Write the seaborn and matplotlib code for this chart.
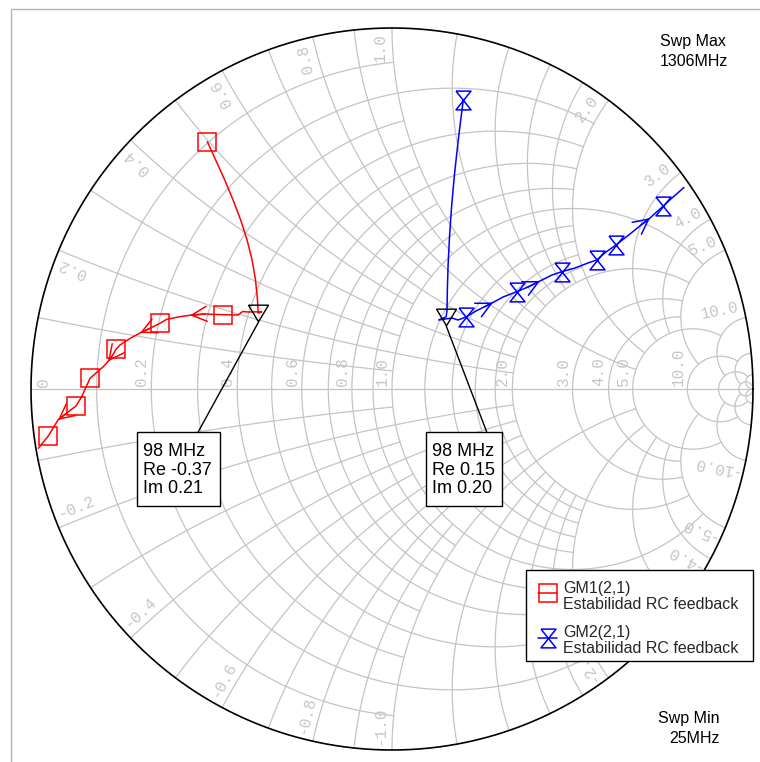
import numpy as np
import seaborn as sns
import matplotlib
matplotlib.use("Agg")
import matplotlib.pyplot as plt
from matplotlib.patches import Rectangle
from matplotlib.path import Path

sns.set_theme(style="white")
plt.rcParams['font.family'] = ['Liberation Sans', 'DejaVu Sans']

# smith grid: circle / arc values and the value where each one stops
grid_vals = [0.1, 0.2, 0.3, 0.4, 0.5, 0.6, 0.7, 0.8, 0.9, 1.0,
             1.2, 1.4, 1.6, 1.8, 2.0, 3.0, 4.0, 5.0, 10.0, 20.0, 50.0]
grid_stop = [1, 2, 1, 2, 1, 2, 1, 2, 1, 5,
             2, 2, 2, 2, 5, 5, 5, 10, 20, 50, np.inf]
lab_vals = [0.2, 0.4, 0.6, 0.8, 1.0, 2.0, 3.0, 4.0, 5.0, 10.0]

# GM1(2,1), reflection plane, 25 MHz -> 1306 MHz
gm1_re = [-0.5116, -0.4884, -0.4634, -0.4402, -0.4191, -0.4014, -0.3875, -0.3781,
          -0.3726, -0.3712, -0.37, -0.3609, -0.3989, -0.4136, -0.4266,
          -0.4690, -0.5180, -0.5596, -0.5873, -0.6241, -0.6427, -0.6704, -0.6981,
          -0.7258, -0.7535, -0.7645, -0.7765, -0.7867, -0.7997, -0.8366, -0.8596,
          -0.8753, -0.9011, -0.9252, -0.9521, -0.9798]
gm1_im = [0.6850, 0.6343, 0.5789, 0.5235, 0.4681, 0.4127, 0.3573, 0.3019,
          0.2465, 0.2188, 0.21, 0.2141, 0.2133, 0.2147, 0.2050,
          0.2058, 0.2078, 0.2042, 0.2003, 0.1931, 0.1820, 0.1681, 0.1551,
          0.1399, 0.1219, 0.1100, 0.0895, 0.0762, 0.0618, 0.0296, -0.0213,
          -0.0471, -0.0665, -0.0859, -0.1302, -0.1643]
gm1_sym = [0, 15, 20, 25, 29, 31, 34]
gm1_arrows = [17, 22, 27, 33]

# GM2(2,1)
gm2_re = [0.1975, 0.1903, 0.1820, 0.1729, 0.1654, 0.1596, 0.1554, 0.1533,
          0.1525, 0.15, 0.1294, 0.1662, 0.1828, 0.2050, 0.2327, 0.2548,
          0.2798, 0.3075, 0.3454, 0.3767, 0.4100, 0.4432, 0.4701, 0.5069,
          0.5429, 0.5670, 0.5928, 0.6205, 0.6593, 0.6898, 0.7147, 0.7515,
          0.7756, 0.8089]
gm2_im = [0.8006, 0.7452, 0.6759, 0.5928, 0.5097, 0.4266, 0.3435, 0.2742,
          0.2188, 0.20, 0.1911, 0.1967, 0.1911, 0.1994, 0.2161, 0.2271,
          0.2396, 0.2548, 0.2695, 0.2825, 0.2992, 0.3158, 0.3249, 0.3352,
          0.3490, 0.3573, 0.3795, 0.3989, 0.4294, 0.4543, 0.4737, 0.5069,
          0.5291, 0.5582]
gm2_sym = [0, 13, 18, 22, 25, 27, 31]
gm2_arrows = [16, 20, 30]

mk_freq = "98 MHz"
mk1 = (-0.37, 0.21)
mk2 = (0.15, 0.20)
swp_max = "1306MHz"
swp_min = "25MHz"
series_name = "Estabilidad RC feedback"

S, CX, CY = 361.0, 392.0, 389.0


def P(px, py):
    # pixel position -> chart coords (used for layout only)
    return (px - CX) / S, (CY - py) / S


def gam(z):
    g = (z - 1) / (z + 1)
    return g.real, g.imag


fig = plt.figure(figsize=(7.6, 7.62), dpi=100)
ax = fig.add_axes([0, 0, 1, 1])
ax.set_xlim(P(0, 0)[0], P(760, 0)[0])
ax.set_ylim(P(0, 762)[1], P(0, 0)[1])
ax.set_aspect('equal')
ax.axis('off')

# frame
x0, y0 = P(11, 9)
ax.add_patch(Rectangle((x0, -2), 4, y0 + 2, fill=False, ec='#b4b4b4', lw=1.0, zorder=0))

gc = '#c4c4c4'
glw = 0.9
for v, stop in zip(grid_vals, grid_stop):
    tmax = np.pi / 2 if np.isinf(stop) else np.arctan(stop)
    t = np.clip(np.linspace(-tmax, tmax, 801), -1.57075, 1.57075)
    gx, gy = gam(v + 1j * np.tan(t))
    ax.plot(gx, gy, color=gc, lw=glw, zorder=1)
    t = np.clip(np.linspace(0, tmax, 601), 0, 1.57075)
    for s in (1, -1):
        gx, gy = gam(np.tan(t) + 1j * s * v)
        ax.plot(gx, gy, color=gc, lw=glw, zorder=1)
ax.plot([-1, 1], [0, 0], color=gc, lw=glw, zorder=1)

th = np.linspace(0, 2 * np.pi, 721)
ax.plot(np.cos(th), np.sin(th), color='black', lw=1.2, zorder=2)

# grid labels
lab_kw = dict(color='#c6c6c6', fontsize=11.5, family='Liberation Mono', zorder=2)
for v in lab_vals:
    g = (v - 1) / (v + 1)
    ax.text(g - 2 / S, 3 / S, f"{v:.1f}", rotation=90, ha='right', va='bottom', **lab_kw)
ax.text(*P(43.5, 382.5), "0", rotation=90, ha='center', va='center', **lab_kw)

d = 12 / S
rho = 1 - 5 / S
for v in lab_vals:
    for s in (1, -1):
        x = s * v
        ang = np.arctan2(2 * x / (x * x + 1), (x * x - 1) / (x * x + 1))
        a = ang + s * d
        rot = np.degrees(ang) if s > 0 else np.degrees(ang) + 180
        ax.text(rho * np.cos(a), rho * np.sin(a), f"{x:.1f}", rotation=rot,
                rotation_mode='anchor', ha='right' if s > 0 else 'left',
                va='center', **lab_kw)

# traces
bowtie = Path([(-0.8, 1), (0.8, 1), (-0.8, -1), (0.8, -1), (-0.8, 1)])
tri = Path([(-1.2, 1), (1.2, 1), (0, -1), (-1.2, 1)])

traces = [(gm1_re, gm1_im, gm1_sym, gm1_arrows, 'red', 's', 12.5),
          (gm2_re, gm2_im, gm2_sym, gm2_arrows, 'blue', bowtie, 13.5)]
for re, im, sym, arr, col, mk, ms in traces:
    sns.lineplot(x=re, y=im, sort=False, estimator=None, color=col, lw=1.1, ax=ax, zorder=3)
    ax.plot(np.array(re)[sym], np.array(im)[sym], ls='none', marker=mk, ms=ms,
            mfc='none', mec=col, mew=1.1, zorder=4)
    for i in arr:
        ax.annotate('', xy=(re[i], im[i]), xytext=(re[i - 1], im[i - 1]),
                    arrowprops=dict(arrowstyle='->,head_length=0.6,head_width=0.3',
                                    color=col, lw=1.1, shrinkA=0, shrinkB=0,
                                    mutation_scale=18), zorder=4)

# marker boxes
boxes = [(mk1, (136.7, 431.7, 220.0, 505.7), 198.3),
         (mk2, (426.0, 431.7, 501.7, 505.7), 486.6)]
for (re, im), (bx0, by0, bx1, by1), lx in boxes:
    ax.plot(re, im, ls='none', marker=tri, ms=14.4, mfc='none', mec='black', mew=1.0, zorder=5)
    ax.plot([re, P(lx, by0)[0]], [im - 9 / S, P(lx, by0)[1]], color='black', lw=1.0, zorder=5)
    ax.add_patch(Rectangle(P(bx0, by1), (bx1 - bx0) / S, (by1 - by0) / S,
                           fc='white', ec='black', lw=1.0, zorder=6))
    lines = [mk_freq, f"Re {re:.2f}", f"Im {im:.2f}"]
    for k, txt in enumerate(lines):
        ax.text(*P(bx0 + 6.3, 456 + 18.7 * k), txt, fontsize=13, ha='left',
                va='baseline', color='black', zorder=7)

# sweep texts
ax.text(*P(660, 46), "Swp Max", fontsize=11.5, va='baseline', ha='left', color='black')
ax.text(*P(660, 65.7), swp_max, fontsize=11.5, va='baseline', ha='left', color='black')
ax.text(*P(720, 723.3), "Swp Min", fontsize=11.5, va='baseline', ha='right', color='black')
ax.text(*P(720, 742.7), swp_min, fontsize=11.5, va='baseline', ha='right', color='black')

# legend
lx0, ly0, lx1, ly1 = 525.7, 570.0, 752.7, 660.7
ax.add_patch(Rectangle(P(lx0, ly1), (lx1 - lx0) / S, (ly1 - ly0) / S,
                       fc='white', ec='black', lw=1.0, zorder=8))
leg = [("GM1(2,1)", 'red', 's', 12.5, 592.7, 593.3),
       ("GM2(2,1)", 'blue', bowtie, 13.5, 638.3, 637.3)]
for name, col, mk, ms, ym, yb in leg:
    ax.plot([P(538.5, 0)[0], P(557, 0)[0]], [P(0, ym)[1]] * 2, color=col, lw=1.1, zorder=9)
    ax.plot(*P(547.7, ym), marker=mk, ms=ms, mfc='none', mec=col, mew=1.1, zorder=9)
    ax.text(*P(563, yb), name, fontsize=11.5, va='baseline', ha='left', zorder=9)
    ax.text(*P(563, yb + 15.3), series_name, fontsize=11.5, va='baseline', ha='left', zorder=9)

fig.savefig("out.png", dpi=100)
